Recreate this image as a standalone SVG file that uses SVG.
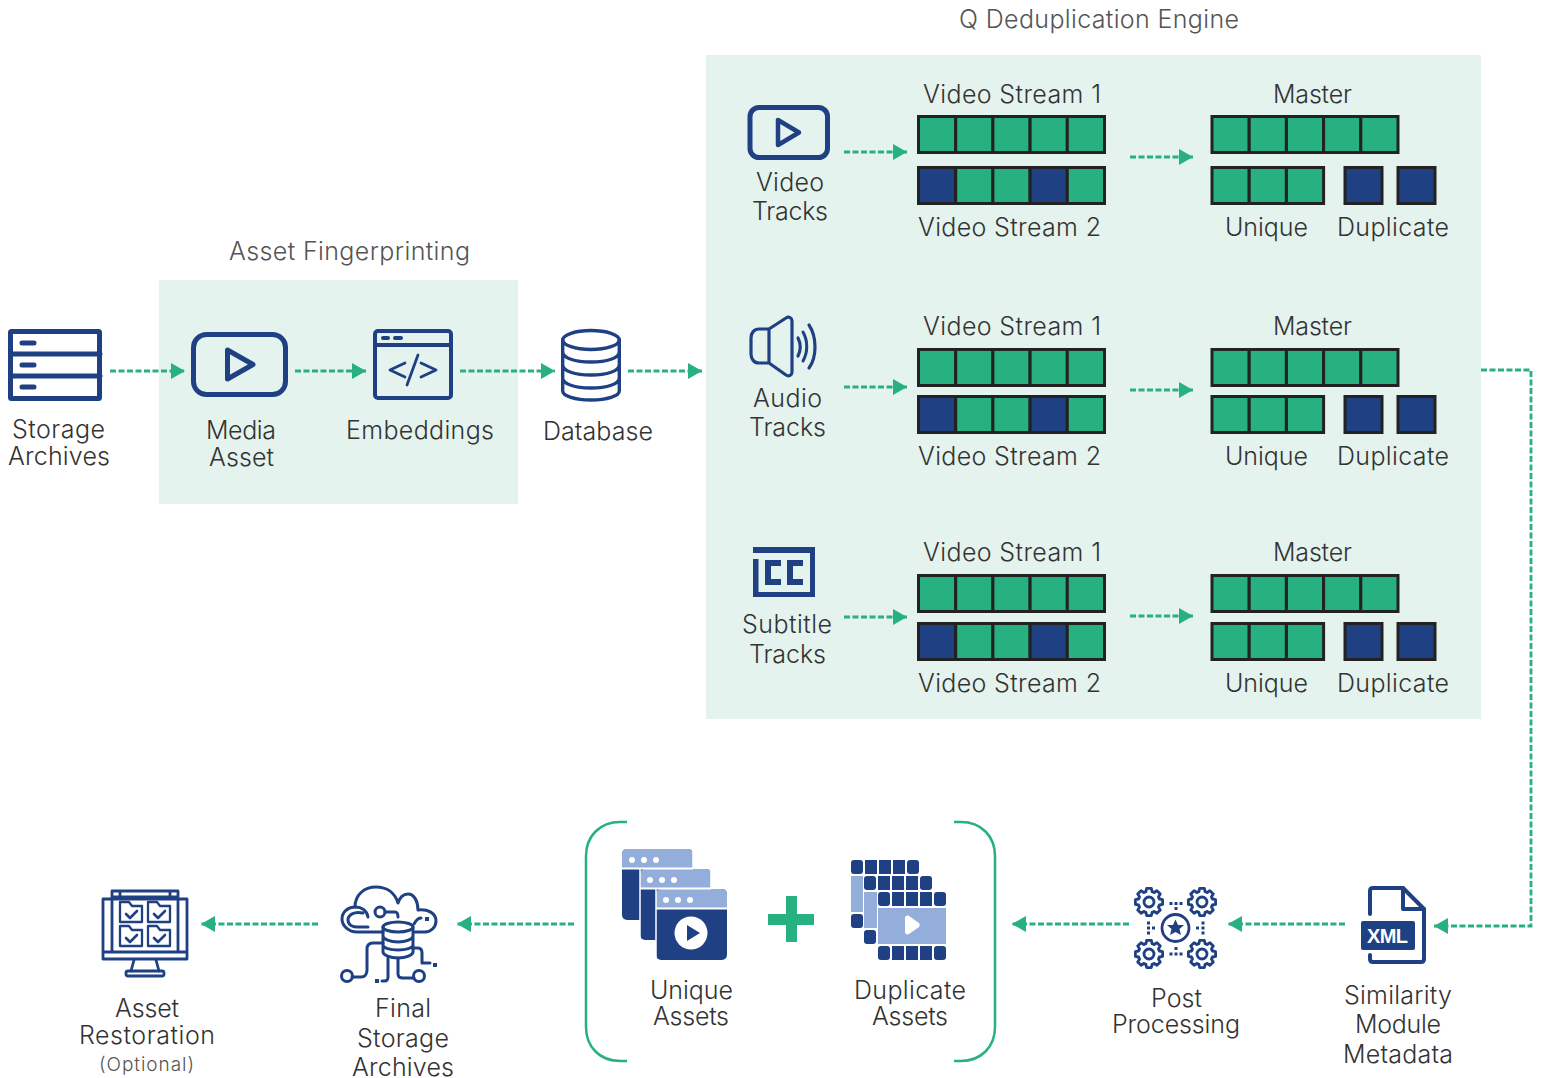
<svg xmlns="http://www.w3.org/2000/svg" width="1546" height="1078" viewBox="0 0 1546 1078">
<style>
text{font-family:"Inter","Liberation Sans",sans-serif;font-weight:300;font-size:25px;fill:#333}
.t{fill:#555}
.n{fill:none;stroke:#1f4083;stroke-linecap:round;stroke-linejoin:round}
.f{fill:#1f4083}
.l{fill:#94aedb}
.c{fill:none;stroke:#27b080;stroke-width:2.8;stroke-dasharray:6 2.5}
.g{fill:#27b080;stroke:#222;stroke-width:3}
.b{fill:#1f4083;stroke:#222;stroke-width:3}
</style>
<defs>
<marker id="ah" markerUnits="userSpaceOnUse" markerWidth="14" markerHeight="17" refX="14" refY="8.500" orient="auto"><path d="M0 0.500L14 8.500L0 16.500Z" fill="#27b080"/></marker>
<g id="allg"><rect class="g" x="0" y="0" width="37.2" height="36"/><rect class="g" x="37.2" y="0" width="37.2" height="36"/><rect class="g" x="74.4" y="0" width="37.2" height="36"/><rect class="g" x="111.6" y="0" width="37.2" height="36"/><rect class="g" x="148.8" y="0" width="37.2" height="36"/></g>
<g id="mix"><rect class="b" x="0" y="0" width="37.2" height="36"/><rect class="g" x="37.2" y="0" width="37.2" height="36"/><rect class="g" x="74.4" y="0" width="37.2" height="36"/><rect class="b" x="111.6" y="0" width="37.2" height="36"/><rect class="g" x="148.8" y="0" width="37.2" height="36"/></g>
<g id="ud"><rect class="g" x="0" y="0" width="37.2" height="36"/><rect class="g" x="37.2" y="0" width="37.2" height="36"/><rect class="g" x="74.4" y="0" width="37.2" height="36"/><rect class="b" x="133" y="0" width="37" height="36"/><rect class="b" x="186" y="0" width="37" height="36"/></g>
<g id="tooth"><path d="M-4.100-10L-3-10.400L-2.400-13.600H2.400L3-10.400L4.100-10" class="n" stroke-width="2.800"/></g>
<g id="gear"><use href="#tooth"/><use href="#tooth" transform="rotate(45)"/><use href="#tooth" transform="rotate(90)"/><use href="#tooth" transform="rotate(135)"/><use href="#tooth" transform="rotate(180)"/><use href="#tooth" transform="rotate(225)"/><use href="#tooth" transform="rotate(270)"/><use href="#tooth" transform="rotate(315)"/><circle r="5" class="n" stroke-width="2.800"/></g>
<g id="folder"><path d="M0 21V1H9L12 5H22V21Z" class="n" stroke-width="2.300"/><path d="M6 13L10 17L17 10" class="n" stroke-width="2.600"/></g>
<g id="win"><rect width="71" height="71" rx="5" class="f"/><path d="M0 19V5a5 5 0 0 1 5-5H66a5 5 0 0 1 5 5V19Z" class="l"/><circle cx="10" cy="11" r="3" fill="#fff"/><circle cx="22" cy="11" r="3" fill="#fff"/><circle cx="34" cy="11" r="3" fill="#fff"/></g>
<g id="film"><rect x="0" y="0" width="12" height="14" rx="3" class="f"/><rect x="14" y="0" width="12" height="14" class="f"/><rect x="28" y="0" width="12" height="14" class="f"/><rect x="42" y="0" width="12" height="14" class="f"/><rect x="56" y="0" width="12" height="14" rx="3" class="f"/><rect x="0" y="16" width="68" height="36" class="l"/><rect x="0" y="54" width="12" height="14" rx="3" class="f"/><rect x="14" y="54" width="12" height="14" class="f"/><rect x="28" y="54" width="12" height="14" class="f"/><rect x="42" y="54" width="12" height="14" class="f"/><rect x="56" y="54" width="12" height="14" rx="3" class="f"/></g>
</defs>
<rect width="1546" height="1078" fill="#fff"/>
<rect x="159" y="280" width="359" height="224" fill="#e4f3ee"/>
<rect x="706" y="55" width="775" height="664" fill="#e4f3ee"/>
<text class="t" x="959" y="28" textLength="280">Q Deduplication Engine</text>
<text class="t" x="229" y="260" textLength="241">Asset Fingerprinting</text>

<g id="connectors">
<path class="c" d="M110 371H185" marker-end="url(#ah)"/>
<path class="c" d="M295 371H366" marker-end="url(#ah)"/>
<path class="c" d="M460 371H555" marker-end="url(#ah)"/>
<path class="c" d="M628 371H702" marker-end="url(#ah)"/>
<path class="c" d="M844 152H907" marker-end="url(#ah)"/>
<path class="c" d="M1130 157H1193" marker-end="url(#ah)"/>
<path class="c" d="M844 387H907" marker-end="url(#ah)"/>
<path class="c" d="M1130 390H1193" marker-end="url(#ah)"/>
<path class="c" d="M844 617H907" marker-end="url(#ah)"/>
<path class="c" d="M1130 616H1193" marker-end="url(#ah)"/>
<path class="c" d="M1481 370H1531V926H1434" marker-end="url(#ah)"/>
<path class="c" d="M1345 924H1228" marker-end="url(#ah)"/>
<path class="c" d="M1129 924H1012" marker-end="url(#ah)"/>
<path class="c" d="M574 924H457" marker-end="url(#ah)"/>
<path class="c" d="M318 924H201" marker-end="url(#ah)"/>
</g>

<g id="storage-archives">
<rect x="10.500" y="331.500" width="89" height="67" rx="1" class="n" stroke-width="5"/>
<path d="M11 354H100M11 376H100" class="n" stroke-width="5"/>
<path d="M22 343H34M22 365H34M22 387H34" class="n" stroke-width="5"/>
<text x="12" y="438" textLength="93">Storage</text><text x="8" y="465" textLength="102">Archives</text>
</g>
<g id="media-asset">
<rect x="193.500" y="334.500" width="92" height="60" rx="13" class="n" stroke-width="5"/>
<path d="M227.500 350V379L253 364.500Z" class="n" stroke-width="5"/>
<text x="206" y="439" textLength="70">Media</text><text x="209" y="466" textLength="65">Asset</text>
</g>
<g id="embeddings">
<rect x="375" y="331" width="76" height="67" rx="3" class="n" stroke-width="4"/>
<path d="M375 345H451" class="n" stroke-width="4"/>
<path d="M383 338H388M395 338H401" class="n" stroke-width="4"/>
<path d="M405 363L390 370L405 377M421 363L436 370L421 377M418 355L407 385" class="n" stroke-width="2.800"/>
<text x="346" y="439" textLength="148">Embeddings</text>
</g>
<g id="database">
<ellipse cx="591" cy="340" rx="28.300" ry="9.500" class="n" stroke-width="3.400"/>
<path d="M562.700 340V391C562.700 396 575 400 591 400S619.300 396 619.300 391V340M562.700 352C562.700 358 575 362 591 362S619.300 358 619.300 352M562.700 365C562.700 371 575 375 591 375S619.300 371 619.300 365M562.700 378C562.700 384 575 388 591 388S619.300 384 619.300 378" class="n" stroke-width="3.400"/>
<text x="543" y="440" textLength="110">Database</text>
</g>

<g id="video-row">
<rect x="750" y="107.500" width="77.500" height="50" rx="9" class="n" stroke-width="5"/>
<path d="M778 120V145L799 132.500Z" class="n" stroke-width="4.500"/>
<text x="756" y="191" textLength="68">Video</text><text x="752" y="220" textLength="76">Tracks</text>
<use href="#allg" x="918.500" y="116.500"/><use href="#mix" x="918.500" y="167.500"/>
<text x="923" y="103" textLength="178">Video Stream 1</text><text x="918" y="236" textLength="183">Video Stream 2</text>
<use href="#allg" x="1212" y="116.500"/><use href="#ud" x="1212" y="167.500"/>
<text x="1273" y="103" textLength="79">Master</text><text x="1225" y="236" textLength="83">Unique</text><text x="1337" y="236" textLength="112">Duplicate</text>
</g>
<g id="audio-row">
<path d="M769 329H759C754 329 751 333 751 338V354C751 359 754 363 759 363H769ZM769 329L786 318C789 316 792 318 792 321V372C792 375 789 377 786 375L769 363" class="n" stroke-width="3.200"/>
<path d="M798 338C801 344 801 350 798 356M809 325C817 337 817 357 809 368" class="n" stroke-width="3.200"/>
<path d="M803 332C808 341 808 352 803 361" class="n" stroke-width="3"/>
<text x="753" y="407" textLength="69">Audio</text><text x="749" y="436" textLength="77">Tracks</text>
<use href="#allg" x="918.500" y="349.500"/><use href="#mix" x="918.500" y="396.500"/>
<text x="923" y="335" textLength="178">Video Stream 1</text><text x="918" y="465" textLength="183">Video Stream 2</text>
<use href="#allg" x="1212" y="349.500"/><use href="#ud" x="1212" y="396.500"/>
<text x="1273" y="335" textLength="79">Master</text><text x="1225" y="465" textLength="83">Unique</text><text x="1337" y="465" textLength="112">Duplicate</text>
</g>
<g id="subtitle-row">
<path class="f" d="M753 547H815V597H753V559H758.500V592H810V553H753Z"/>
<path class="f" d="M765 560H781V566H771V579H781V585H765ZM787 560H803V566H793V579H803V585H787Z"/>
<text x="742" y="633" textLength="90">Subtitle</text><text x="749" y="663" textLength="77">Tracks</text>
<use href="#allg" x="918.500" y="575.500"/><use href="#mix" x="918.500" y="623.500"/>
<text x="923" y="561" textLength="178">Video Stream 1</text><text x="918" y="692" textLength="183">Video Stream 2</text>
<use href="#allg" x="1212" y="575.500"/><use href="#ud" x="1212" y="623.500"/>
<text x="1273" y="561" textLength="79">Master</text><text x="1225" y="692" textLength="83">Unique</text><text x="1337" y="692" textLength="112">Duplicate</text>
</g>

<g id="asset-restoration">
<path d="M103 899H187V959H103ZM103 952H187M112 952V891H178V952M112 897H178M120 891V897M170 891V897" class="n" stroke-width="2.800"/>
<path d="M134 960L131 971M156 960L159 971" class="n" stroke-width="2.800"/>
<rect x="126" y="971" width="38" height="5" rx="2" class="n" stroke-width="2.800"/>
<use href="#folder" x="120" y="901"/><use href="#folder" x="148" y="901"/><use href="#folder" x="120" y="925"/><use href="#folder" x="148" y="925"/>
<text x="115" y="1017" textLength="64">Asset</text><text x="79" y="1044" textLength="136">Restoration</text>
<text class="t" x="99" y="1071" textLength="95" style="font-size:19px">(Optional)</text>
</g>
<g id="final-storage">
<path d="M383 932H357C349 932 342 926 342 919C342 912 348 907 355 907C355 895 364 887 376 887C387 887 395 893 398 903C400 897 404 894 408 894C414 894 418 901 418 910C428 909 436 913 436 921C436 927 431 932 425 932H415" class="n" stroke-width="3"/>
<path d="M363 913C354 911 348 915 348 920C348 925 353 927 358 927H368M355 907C362 907 367 911 368 917" class="n" stroke-width="3"/>
<circle cx="380" cy="912" r="5" class="n" stroke-width="3"/>
<path d="M385 912H395C397 912 398 914 398 917M414 924C416 921 417 918 421 918" class="n" stroke-width="3"/>
<ellipse cx="398" cy="927" rx="15" ry="5" class="n" stroke-width="3"/>
<path d="M383 927V952C383 955 390 958 398 958S413 955 413 952V927M383 936C383 939 390 942 398 942S413 939 413 936M383 945C383 948 390 950 398 950S413 948 413 945" class="n" stroke-width="3"/>
<path d="M383 943H373C369 943 367 945 367 949V970C367 974 365 977 361 977H352M413 948H418C421 948 422 950 422 953V963H430M388 958V977C388 980 387 981 384 981H382M398 958V974C398 977 400 978 403 978H414" class="n" stroke-width="3"/>
<circle cx="347" cy="976" r="5.500" class="n" stroke-width="3"/><circle cx="419" cy="976" r="5.500" class="n" stroke-width="3"/>
<rect x="375" y="979" width="4" height="4" class="f"/><rect x="433" y="963" width="4" height="4" class="f"/><rect x="425" y="917" width="4" height="4" class="f"/>
<text x="375" y="1017" textLength="56">Final</text><text x="357" y="1047" textLength="92">Storage</text><text x="352" y="1076" textLength="102">Archives</text>
</g>
<g id="asset-bracket">
<path d="M627 822H620C600 822 586 836 586 856V1027C586 1047 600 1061 620 1061H627" fill="none" stroke="#27b080" stroke-width="2.500"/>
<path d="M954 822H961C981 822 995 836 995 856V1027C995 1047 981 1061 961 1061H954" fill="none" stroke="#27b080" stroke-width="2.500"/>
</g>
<g id="unique-assets">
<use href="#win" x="622" y="849"/><use href="#win" x="640" y="869"/><use href="#win" x="656" y="889"/>
<path d="M622 868.500H693M640 888.500H711M656 908.500H727" stroke="#fff" stroke-width="2"/>
<path d="M640 869V939M656 889V959M693 849V869M711 869V889" stroke="#fff" stroke-width="1.500"/>
<circle cx="691" cy="933" r="16.500" fill="#fff"/><path d="M687 925V941L700 933Z" class="f"/>
<text x="650" y="999" textLength="83">Unique</text><text x="653" y="1025" textLength="76">Assets</text>
</g>
<g id="plus"><path d="M786 896H797V914H814V925H797V942H786V925H768V914H786Z" fill="#27b080"/></g>
<g id="duplicate-assets">
<use href="#film" x="851" y="860"/>
<rect x="863" y="875" width="70" height="70" fill="#fff"/><use href="#film" x="864" y="876"/>
<rect x="877" y="891" width="70" height="70" fill="#fff"/><use href="#film" x="878" y="892"/>
<path d="M905 918C905 916 907 915 909 916L919 923C920 924 920 926 919 927L909 934C907 935 905 934 905 932Z" fill="#fff"/>
<text x="854" y="999" textLength="112">Duplicate</text><text x="872" y="1025" textLength="76">Assets</text>
</g>
<g id="post-processing">
<use href="#gear" x="1149" y="902"/><use href="#gear" x="1202" y="902"/><use href="#gear" x="1149" y="954"/><use href="#gear" x="1202" y="954"/>
<circle cx="1175.500" cy="928" r="13.500" class="n" stroke-width="2.800"/>
<path class="f" d="M1175.500 919.500L1178 925H1184L1179.500 929L1181 935L1175.500 932L1170 935L1171.500 929L1167 925H1173Z"/>
<path d="M1169.500 903.500H1172.500M1174.500 903.500H1177.500M1179.500 903.500H1182.500M1174.500 908.500H1177.500M1169.500 954H1172.500M1174.500 954H1177.500M1179.500 954H1182.500M1174.500 948.500H1177.500M1148.500 921.500V924.500M1148.500 926.500V929.500M1148.500 931.500V934.500M1152 928H1155M1203 921.500V924.500M1203 926.500V929.500M1203 931.500V934.500M1196 928H1199" stroke="#1f4083" stroke-width="3" fill="none"/>
<text x="1151" y="1007" textLength="51">Post</text><text x="1112" y="1033" textLength="128">Processing</text>
</g>
<g id="similarity-metadata">
<path d="M1370 914V891C1370 889 1371 888 1373 888H1403L1424 909V959C1424 961 1423 962 1421 962H1373C1371 962 1370 961 1370 959V955" class="n" stroke-width="4"/>
<path d="M1403 888V909H1424" class="n" stroke-width="4"/>
<rect x="1361" y="921" width="54" height="29" rx="2" class="f"/>
<text x="1367" y="943" textLength="41" style="font-family:'Liberation Sans',sans-serif;font-weight:700;font-size:20px;fill:#fff">XML</text>
<text x="1344" y="1004" textLength="108">Similarity</text><text x="1355" y="1033" textLength="86">Module</text><text x="1343" y="1063" textLength="110">Metadata</text>
</g>
</svg>
